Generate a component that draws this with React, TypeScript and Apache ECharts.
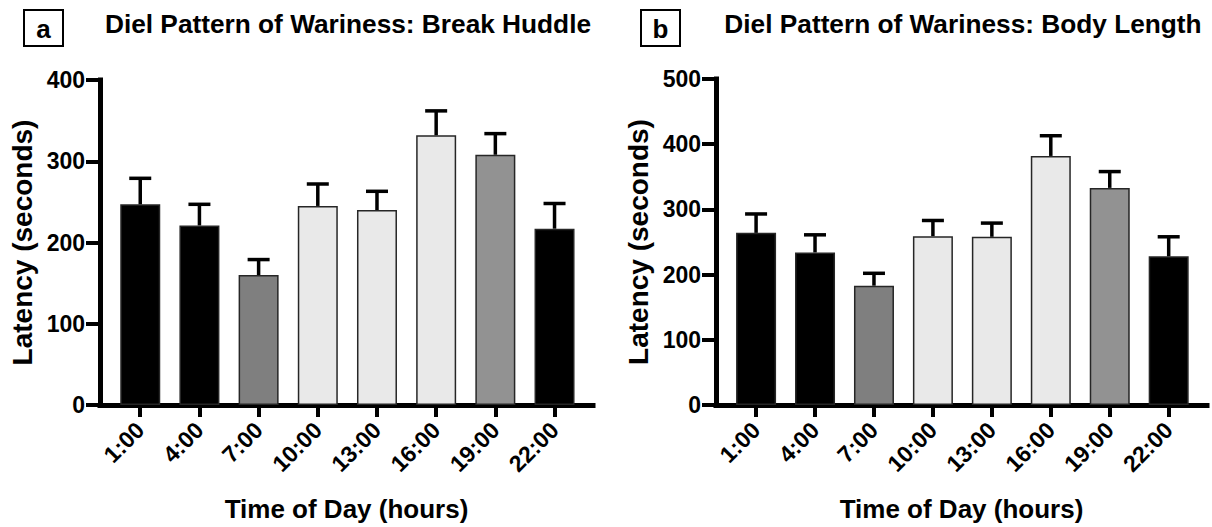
import React, { useEffect, useRef } from "react";
import * as echarts from "echarts";

const categories = ["1:00", "4:00", "7:00", "10:00", "13:00", "16:00", "19:00", "22:00"];
const huddleMean = [247, 221, 160, 245, 240, 332, 308, 217];
const huddleUpper = [279, 247, 179, 272, 263, 362, 334, 248];
const bodyMean = [264, 234, 183, 259, 258, 382, 333, 228];
const bodyUpper = [293, 261, 202, 283, 279, 413, 358, 258];
const barColors = ["#000000", "#000000", "#7f7f7f", "#e9e9e9", "#e9e9e9", "#e9e9e9", "#929292", "#000000"];
const titleA = "Diel Pattern of Wariness: Break Huddle";
const titleB = "Diel Pattern of Wariness: Body Length";
const yMaxA = 400;
const yMaxB = 500;
const yStep = 100;
const xName = "Time of Day (hours)";
const yName = "Latency (seconds)";

const FONT = '"Liberation Sans", Arial, Helvetica, sans-serif';

function xAxisFor(gridIndex: number) {
  const idx = categories.map((_, i) => i);
  return {
    type: "value",
    gridIndex,
    min: -0.68,
    max: 7.65,
    splitLine: { show: false },
    axisLine: { show: true, onZero: false, lineStyle: { color: "#000", width: 5, cap: "square" } },
    axisTick: { show: true, customValues: idx, length: 12, lineStyle: { color: "#000", width: 4 } },
    axisLabel: {
      show: true,
      customValues: idx,
      formatter: (v: number) => categories[Math.round(v)] ?? "",
      rotate: 45,
      margin: 21,
      color: "#000",
      fontSize: 23,
      fontWeight: "bold",
      fontFamily: FONT,
    },
    name: xName,
    nameLocation: "middle",
    nameGap: 91,
    nameTextStyle: { color: "#000", fontSize: 26, fontWeight: "bold", fontFamily: FONT },
  };
}

function yAxisFor(gridIndex: number, max: number) {
  return {
    type: "value",
    gridIndex,
    min: 0,
    max,
    interval: yStep,
    splitLine: { show: false },
    axisLine: { show: true, onZero: false, lineStyle: { color: "#000", width: 5, cap: "square" } },
    axisTick: { show: true, length: 14, lineStyle: { color: "#000", width: 4 } },
    axisLabel: {
      show: true,
      margin: 15,
      color: "#000",
      fontSize: 23,
      fontWeight: "bold",
      fontFamily: FONT,
    },
    name: yName,
    nameLocation: "middle",
    nameGap: 64,
    nameTextStyle: { color: "#000", fontSize: 28, fontWeight: "bold", fontFamily: FONT },
  };
}

function barSeries(idx: number, means: number[]) {
  return {
    type: "bar",
    xAxisIndex: idx,
    yAxisIndex: idx,
    barWidth: 40,
    data: means.map((m, i) => ({
      value: [i, m],
      itemStyle: { color: barColors[i], borderColor: "#262626", borderWidth: 1.5 },
    })),
    z: 2,
  };
}

function errSeries(idx: number, means: number[], uppers: number[]) {
  return {
    type: "custom",
    xAxisIndex: idx,
    yAxisIndex: idx,
    z: 3,
    encode: { x: 0, y: [1, 2] },
    data: means.map((m, i) => [i, m, uppers[i]]),
    renderItem: (params: any, api: any) => {
      const x = api.value(0);
      const p0 = api.coord([x, api.value(1)]);
      const p1 = api.coord([x, api.value(2)]);
      const st = { stroke: "#000", lineWidth: 3.5 };
      return {
        type: "group",
        children: [
          { type: "line", shape: { x1: p0[0], y1: p0[1], x2: p1[0], y2: p1[1] }, style: st },
          { type: "line", shape: { x1: p1[0] - 11, y1: p1[1], x2: p1[0] + 11, y2: p1[1] }, style: st },
        ],
      };
    },
  };
}

function panelLabel(x: number, letter: string) {
  return [
    {
      type: "rect",
      shape: { x, y: 10, width: 39, height: 36 },
      style: { fill: "#fff", stroke: "#000", lineWidth: 2 },
    },
    {
      type: "text",
      x: x + 19.5,
      y: 28.5,
      style: {
        text: letter,
        fill: "#000",
        fontSize: 26,
        fontWeight: "bold",
        fontFamily: FONT,
        textAlign: "center",
        textVerticalAlign: "middle",
      },
    },
  ];
}

function titleText(cx: number, text: string) {
  return {
    type: "text",
    x: cx,
    y: 24,
    scaleX: 1.05,
    style: {
      text,
      fill: "#000",
      fontSize: 25,
      fontWeight: "bold",
      fontFamily: FONT,
      textAlign: "center",
      textVerticalAlign: "middle",
    },
  };
}

export default function App() {
  const ref = useRef<HTMLDivElement>(null);
  useEffect(() => {
    if (!ref.current) return;
    const chart = echarts.init(ref.current, null, { renderer: "svg" });
    chart.setOption({
      animation: false,
      backgroundColor: "#fff",
      grid: [
        { left: 100, top: 80, width: 493, height: 325 },
        { left: 716, top: 79, width: 491, height: 326 },
      ],
      xAxis: [xAxisFor(0), xAxisFor(1)],
      yAxis: [yAxisFor(0, yMaxA), yAxisFor(1, yMaxB)],
      series: [
        barSeries(0, huddleMean),
        errSeries(0, huddleMean, huddleUpper),
        barSeries(1, bodyMean),
        errSeries(1, bodyMean, bodyUpper),
      ],
      graphic: [
        ...panelLabel(24, "a"),
        ...panelLabel(641, "b"),
        titleText(348, titleA),
        titleText(963, titleB),
      ],
    });
    return () => chart.dispose();
  }, []);
  return (
    <div
      ref={ref}
      style={{ position: "fixed", left: 0, top: 0, width: 1212, height: 527, background: "#fff" }}
    />
  );
}
